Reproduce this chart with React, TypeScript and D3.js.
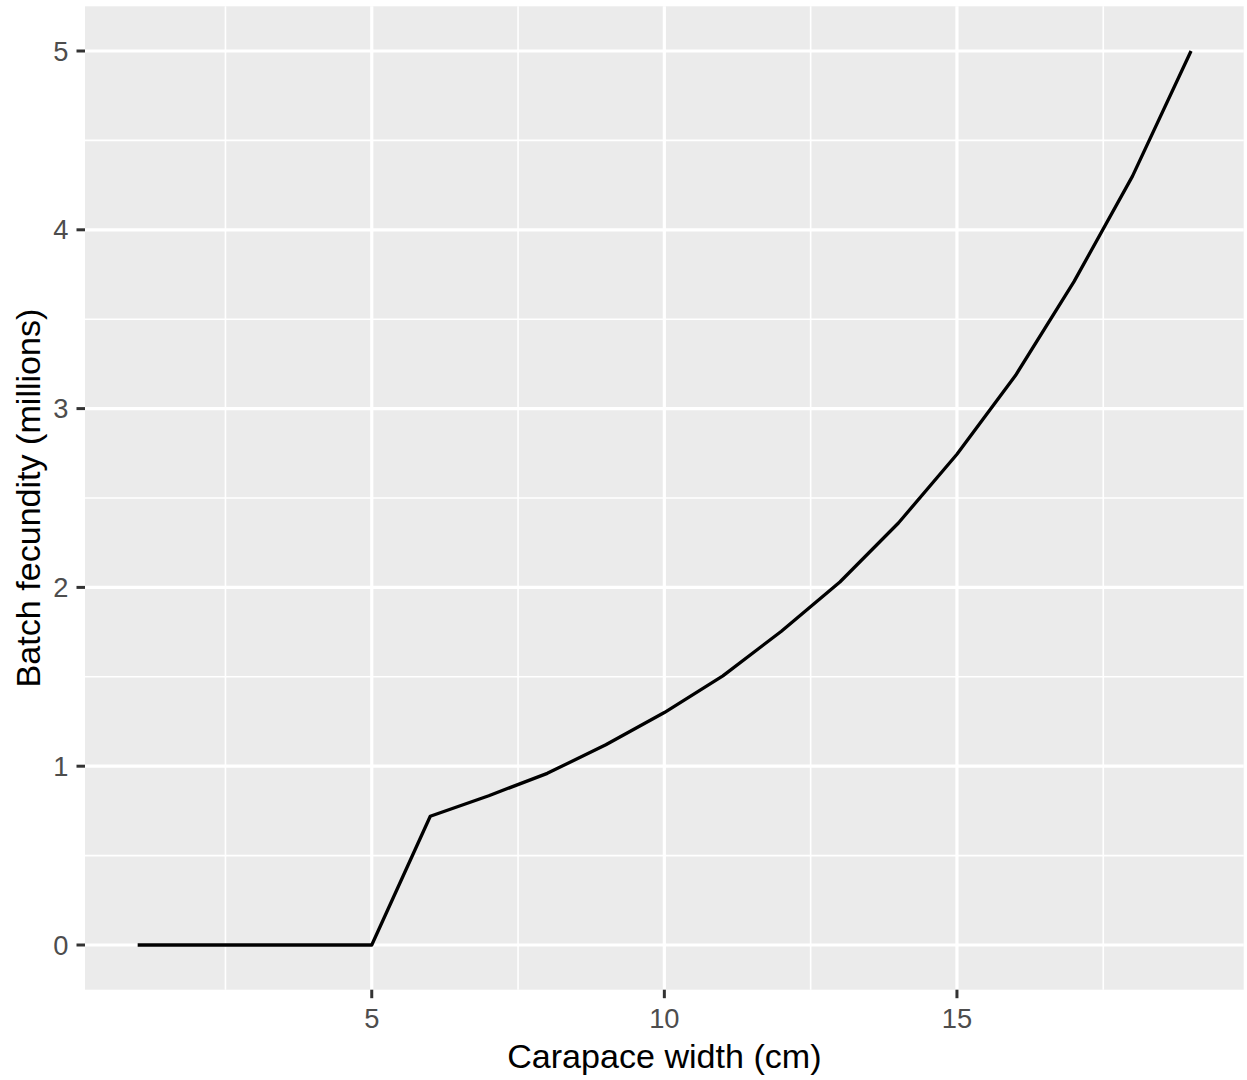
import React from "react";
import * as d3 from "d3";

const widths = [1, 2, 3, 4, 5, 6, 7, 8, 9, 10, 11, 12, 13, 14, 15, 16, 17, 18, 19];
const fecundity = [0, 0, 0, 0, 0, 0.72, 0.835, 0.96, 1.12, 1.3, 1.505, 1.755, 2.03, 2.36, 2.745, 3.185, 3.71, 4.3, 5.0];
const xTicks = [5, 10, 15];
const yTicks = [0, 1, 2, 3, 4, 5];
const xMinor = [2.5, 7.5, 12.5, 17.5];
const yMinor = [0.5, 1.5, 2.5, 3.5, 4.5];
const xTitle = "Carapace width (cm)";
const yTitle = "Batch fecundity (millions)";

const W = 1247;
const H = 1080;
const panel = { left: 85, right: 1243.7, top: 6.3, bottom: 989.7 };

export default function App() {
  const xExt = d3.extent(widths) as [number, number];
  const yExt = d3.extent(fecundity) as [number, number];
  const xPad = (xExt[1] - xExt[0]) * 0.05;
  const yPad = (yExt[1] - yExt[0]) * 0.05;
  const x = d3.scaleLinear().domain([xExt[0] - xPad, xExt[1] + xPad]).range([panel.left, panel.right]);
  const y = d3.scaleLinear().domain([yExt[0] - yPad, yExt[1] + yPad]).range([panel.bottom, panel.top]);
  const line = d3
    .line<number>()
    .x((_, i) => x(widths[i]))
    .y((d) => y(d));
  const font = "'Liberation Sans', Arial, sans-serif";
  return (
    <svg
      width={W}
      height={H}
      style={{ position: "absolute", top: 0, left: 0, background: "#fff" }}
      fontFamily={font}
    >
      <rect x={0} y={0} width={W} height={H} fill="#fff" />
      <rect
        x={panel.left}
        y={panel.top}
        width={panel.right - panel.left}
        height={panel.bottom - panel.top}
        fill="#EBEBEB"
      />
      {xMinor.map((t) => (
        <line key={"xm" + t} x1={x(t)} x2={x(t)} y1={panel.top} y2={panel.bottom} stroke="#fff" strokeWidth={1.6} />
      ))}
      {yMinor.map((t) => (
        <line key={"ym" + t} x1={panel.left} x2={panel.right} y1={y(t)} y2={y(t)} stroke="#fff" strokeWidth={1.6} />
      ))}
      {xTicks.map((t) => (
        <line key={"xg" + t} x1={x(t)} x2={x(t)} y1={panel.top} y2={panel.bottom} stroke="#fff" strokeWidth={3.2} />
      ))}
      {yTicks.map((t) => (
        <line key={"yg" + t} x1={panel.left} x2={panel.right} y1={y(t)} y2={y(t)} stroke="#fff" strokeWidth={3.2} />
      ))}
      <path
        d={line(fecundity) || ""}
        fill="none"
        stroke="#000"
        strokeWidth={3.3}
        strokeLinejoin="round"
        strokeLinecap="butt"
      />
      {xTicks.map((t) => (
        <g key={"xt" + t}>
          <line x1={x(t)} x2={x(t)} y1={panel.bottom} y2={panel.bottom + 8.5} stroke="#333" strokeWidth={3} />
          <text x={x(t)} y={1028.3} textAnchor="middle" fontSize={27.3} fill="#4D4D4D">
            {t}
          </text>
        </g>
      ))}
      {yTicks.map((t) => (
        <g key={"yt" + t}>
          <line x1={panel.left - 8.5} x2={panel.left} y1={y(t)} y2={y(t)} stroke="#333" strokeWidth={3} />
          <text x={68.5} y={y(t)} dy="0.35em" textAnchor="end" fontSize={27.3} fill="#4D4D4D">
            {t}
          </text>
        </g>
      ))}
      <text x={(panel.left + panel.right) / 2} y={1068.3} textAnchor="middle" fontSize={34.1} fill="#000">
        {xTitle}
      </text>
      <text
        transform={`translate(39.6,${(panel.top + panel.bottom) / 2}) rotate(-90)`}
        textAnchor="middle"
        fontSize={34.1}
        fill="#000"
      >
        {yTitle}
      </text>
    </svg>
  );
}
